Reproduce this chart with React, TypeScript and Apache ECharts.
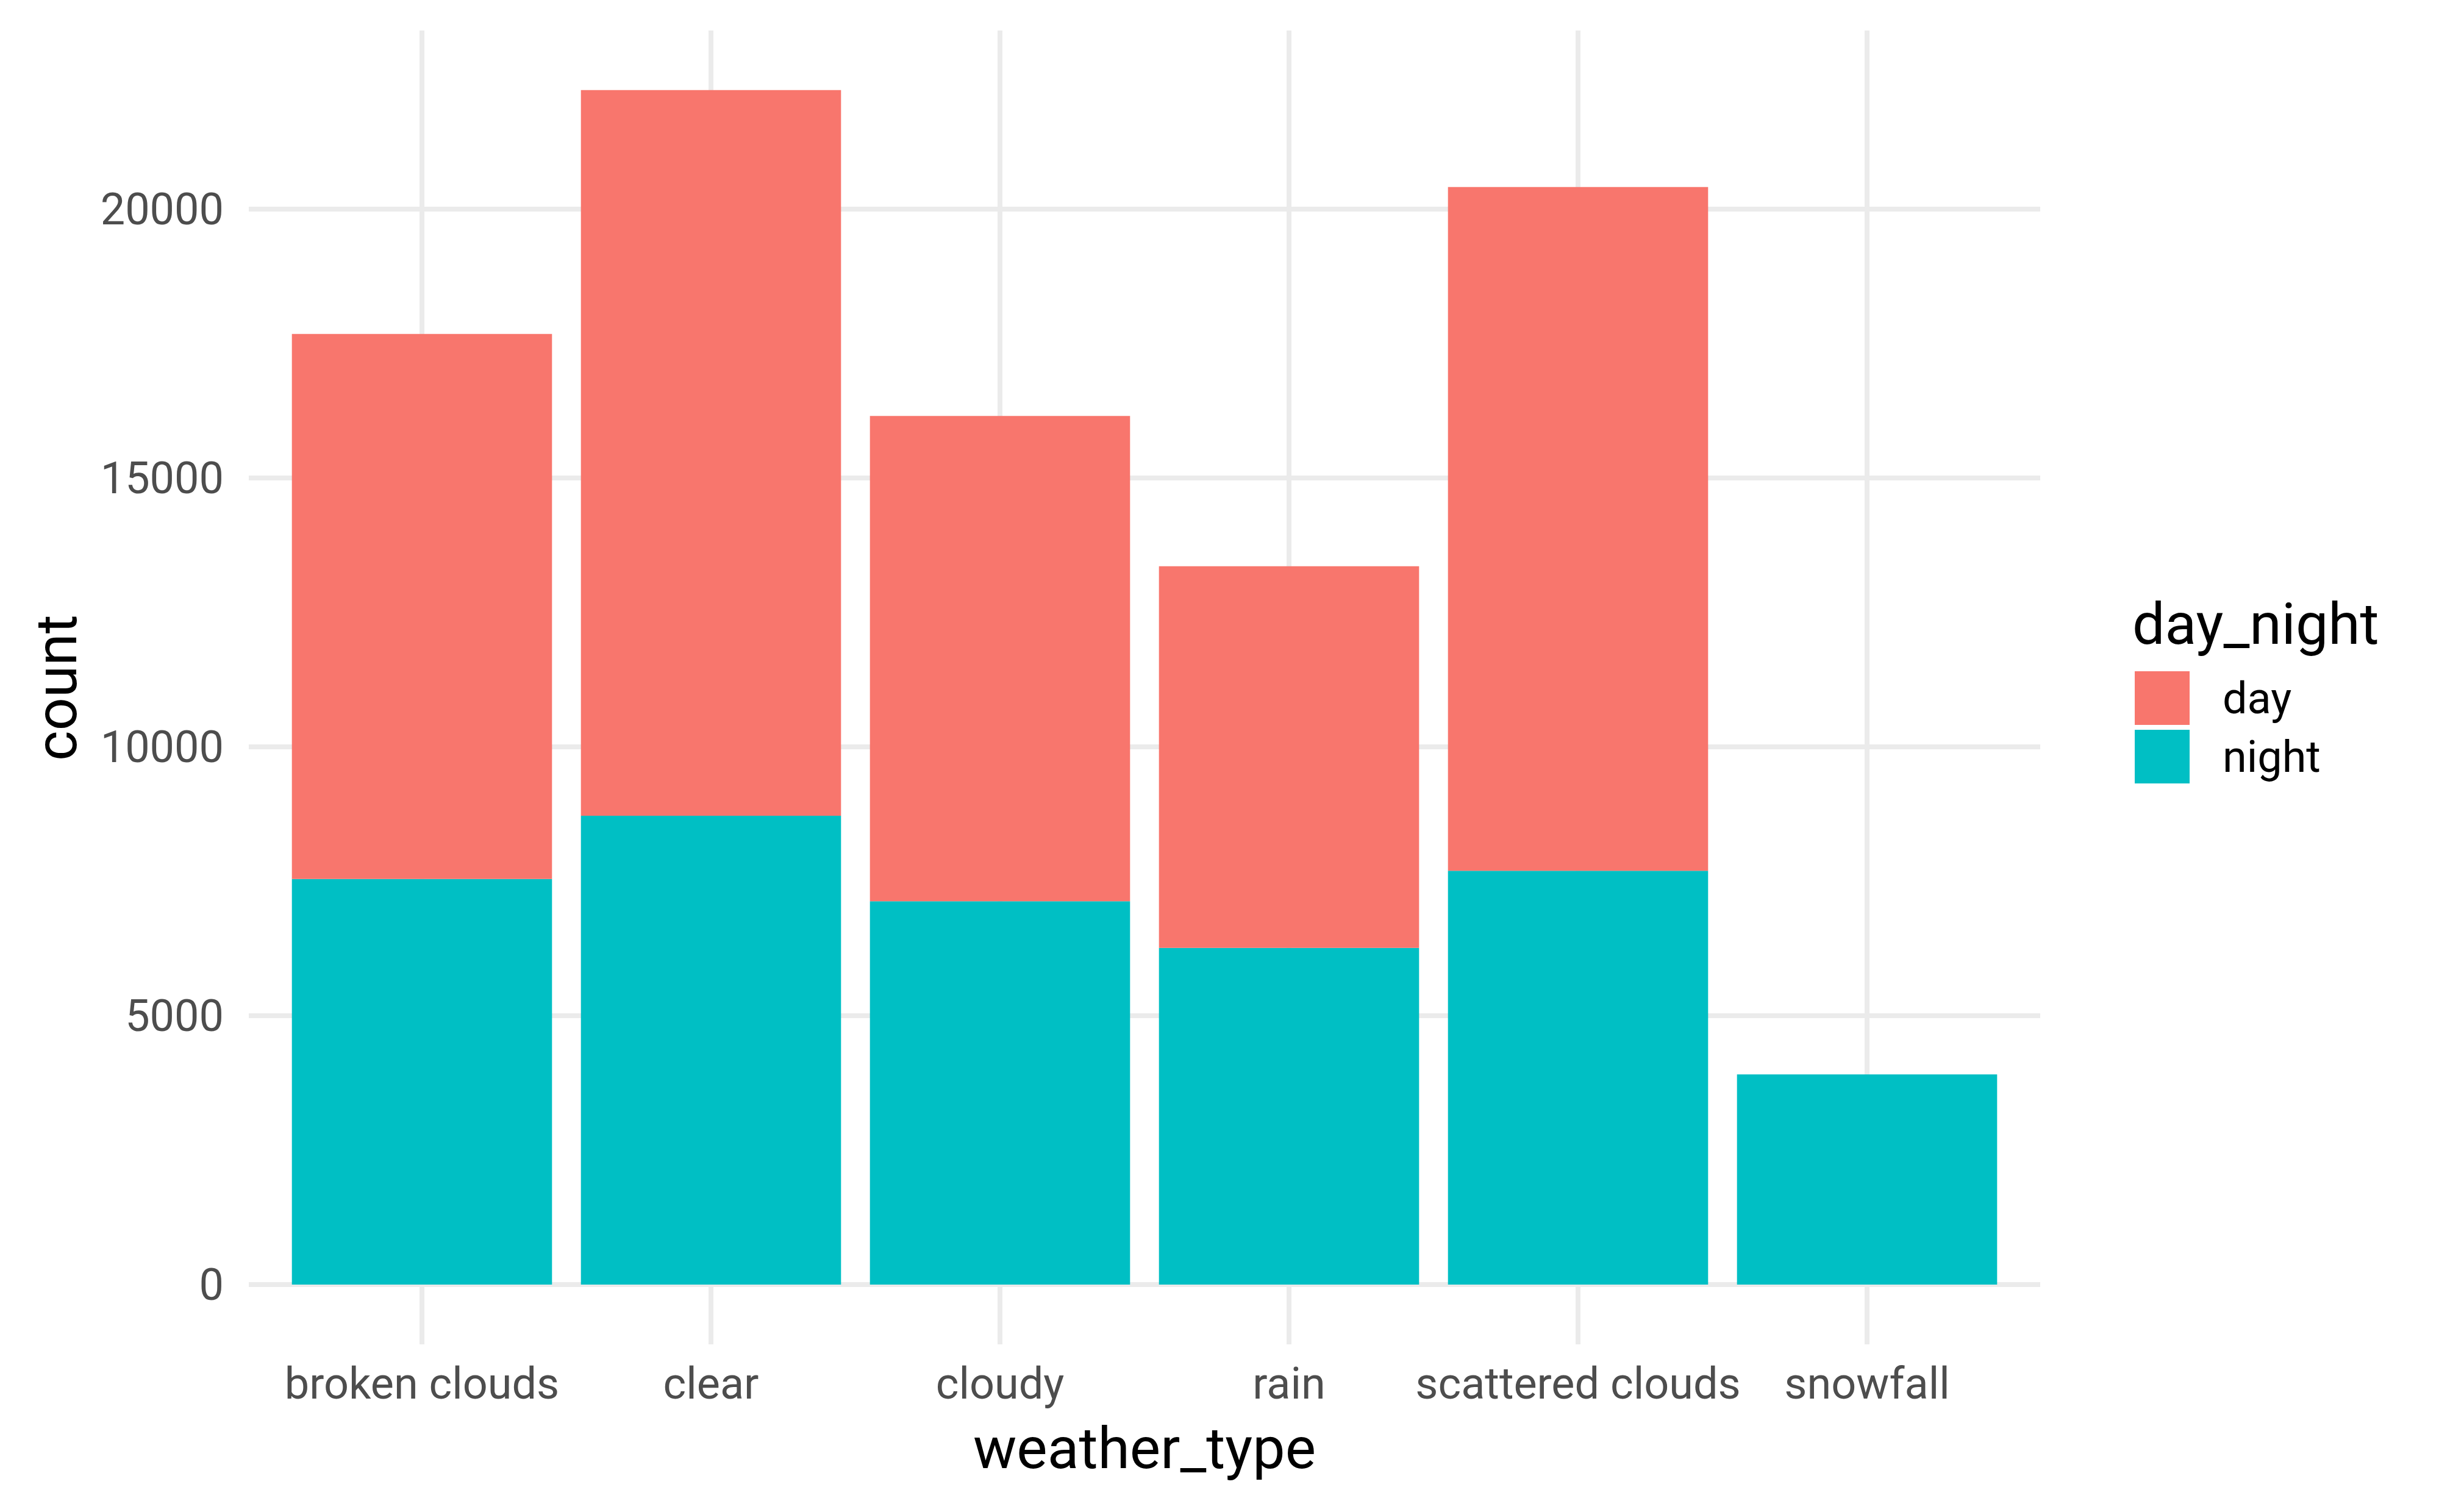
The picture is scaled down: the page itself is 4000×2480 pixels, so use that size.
import React, { useEffect, useRef } from "react";
import * as echarts from "echarts";

const categories = ["broken clouds", "clear", "cloudy", "rain", "scattered clouds", "snowfall"];
const nightCounts = [7542, 8718, 7130, 6260, 7695, 3908];
const dayCounts = [10137, 13496, 9023, 7099, 12717, 0];
const legendItems = ["day", "night"];
const yMin = 0;
const yMax = 23322;
const yStep = 5000;

const FONT = "Roboto, 'Noto Sans', sans-serif";
const GRID_COLOR = "#EBEBEB";

export default function App() {
  const ref = useRef<HTMLDivElement>(null);
  useEffect(() => {
    document.body.style.margin = "0";
    if (!ref.current) return;
    const chart = echarts.init(ref.current, undefined, { renderer: "svg" });
    chart.setOption({
      animation: false,
      backgroundColor: "#FFFFFF",
      grid: [
        { left: 408, right: 654, top: 50, bottom: 373 },
        { left: 455, right: 701, top: 50, bottom: 275 },
        { left: 455, right: 701, top: 50, bottom: 373 },
      ],
      xAxis: [
        { gridIndex: 0, type: "value", show: false, min: 0, max: 1 },
        {
          gridIndex: 1,
          type: "category",
          data: categories,
          axisLine: { show: false },
          axisTick: {
            show: true,
            alignWithLabel: true,
            inside: true,
            interval: 0,
            length: 2155,
            lineStyle: { color: GRID_COLOR, width: 8 },
          },
          axisLabel: { interval: 0, margin: 28, fontSize: 72, color: "#4D4D4D", fontFamily: FONT },
          splitLine: { show: false },
        },
        { gridIndex: 2, type: "category", data: categories, show: false },
      ],
      yAxis: [
        {
          gridIndex: 0,
          type: "value",
          min: yMin,
          max: yMax,
          interval: yStep,
          axisLine: { show: false },
          axisTick: { show: false },
          axisLabel: {
            margin: 41,
            fontSize: 72,
            color: "#4D4D4D",
            fontFamily: FONT,
            showMaxLabel: false,
            formatter: (v: number) => (v % yStep === 0 ? String(v) : ""),
          },
          splitLine: {
            show: true,
            showMaxLine: false,
            lineStyle: { color: GRID_COLOR, width: 8 },
          },
        },
        { gridIndex: 1, type: "value", show: false },
        { gridIndex: 2, type: "value", min: yMin, max: yMax, show: false },
      ],
      legend: {
        data: legendItems,
        orient: "vertical",
        left: 3501,
        top: 1101,
        padding: 0,
        itemWidth: 90,
        itemHeight: 88,
        itemGap: 8,
        icon: "rect",
        selectedMode: false,
        textStyle: { fontSize: 72, color: "#000000", fontFamily: FONT, padding: [0, 0, 0, 49] },
      },
      series: [
        {
          name: "night",
          type: "bar",
          xAxisIndex: 2,
          yAxisIndex: 2,
          stack: "total",
          barWidth: "90%",
          data: nightCounts,
          itemStyle: { color: "#00BFC4" },
        },
        {
          name: "day",
          type: "bar",
          xAxisIndex: 2,
          yAxisIndex: 2,
          stack: "total",
          barWidth: "90%",
          data: dayCounts,
          itemStyle: { color: "#F8766D" },
        },
      ],
      graphic: [
        {
          type: "text",
          x: 92,
          y: 1128,
          rotation: Math.PI / 2,
          style: {
            text: "count",
            fontSize: 95,
            fontFamily: FONT,
            fill: "#000000",
            align: "center",
            verticalAlign: "middle",
            textAlign: "center",
            textVerticalAlign: "middle",
          },
        },
        {
          type: "text",
          x: 1877,
          y: 2375,
          style: {
            text: "weather_type",
            fontSize: 95,
            fontFamily: FONT,
            fill: "#000000",
            align: "center",
            verticalAlign: "middle",
            textAlign: "center",
            textVerticalAlign: "middle",
          },
        },
        {
          type: "text",
          x: 3497,
          y: 1023,
          style: {
            text: "day_night",
            fontSize: 95,
            fontFamily: FONT,
            fill: "#000000",
            align: "left",
            verticalAlign: "middle",
            textAlign: "left",
            textVerticalAlign: "middle",
          },
        },
      ],
    });
    return () => chart.dispose();
  }, []);
  return <div ref={ref} style={{ width: 4000, height: 2480 }} />;
}
